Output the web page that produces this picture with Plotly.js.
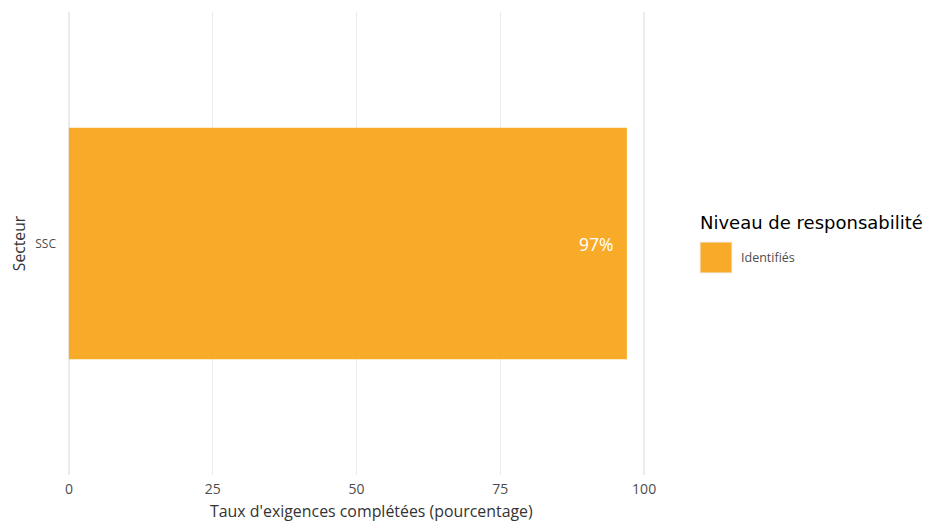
<!DOCTYPE html>
<html>
<head>
<meta charset="utf-8">
<script src="https://cdn.plot.ly/plotly-3.0.1.min.js"></script>
<style>html,body{margin:0;padding:0;background:#fff;}#chart{width:946px;height:525px;}</style>
</head>
<body>
<div id="chart"></div>
<script>
const categories = ["SSC"];
const values = [97];
const labels = ["97%"];
const seriesName = "Identifiés";
const legendTitle = "Niveau de responsabilité";
const xTitle = "Taux d'exigences complétées (pourcentage)";
const yTitle = "Secteur";
const xTicks = [0, 25, 50, 75, 100];
const barColor = "#F8AB28";

const trace = {
  type: "bar",
  orientation: "h",
  x: values,
  y: categories,
  width: 0.6,
  name: seriesName,
  marker: {color: barColor},
  hoverinfo: "x+y",
  showlegend: false
};

const W = 946, H = 525;
const margin = {l: 66, r: 299, t: 12, b: 50};

const layout = {
  width: W, height: H,
  margin: margin,
  paper_bgcolor: "#fff", plot_bgcolor: "#fff",
  showlegend: false,
  xaxis: {
    range: [-0.5, 100.5], tickvals: xTicks, ticktext: xTicks.map(String),
    showgrid: true, gridcolor: "#ebebeb", gridwidth: 1.5, zeroline: false,
    showline: false, ticks: "", ticklabelstandoff: 4,
    tickfont: {family: "Open Sans", size: 14, color: "#4d4d4d"},
    fixedrange: true
  },
  yaxis: {
    range: [-0.6, 0.6], showgrid: false, zeroline: false, ticks: "", ticklabelstandoff: 9,
    tickfont: {family: "Open Sans", size: 12, color: "#4d4d4d"},
    title: {text: yTitle, font: {family: "Open Sans", size: 15.7, color: "#333"}, standoff: 5},
    fixedrange: true
  },
  annotations: [],
  shapes: []
};

function px2paperX(px){ return (px - margin.l) / (W - margin.l - margin.r); }
function px2paperY(py){ return 1 - (py - margin.t) / (H - margin.t - margin.b); }

layout.annotations.push(
  {x: values[0], y: categories[0], xref: "x", yref: "y", text: labels[0], showarrow: false,
   xanchor: "right", xshift: -12, font: {family: "Open Sans", size: 17.5, color: "#fff"}},
  {x: px2paperX(371), y: px2paperY(511), xref: "paper", yref: "paper", xanchor: "center", yanchor: "middle",
   text: xTitle, showarrow: false, font: {family: "Open Sans", size: 15.9, color: "#333"}},
  {x: px2paperX(698), y: px2paperY(222), xref: "paper", yref: "paper", xanchor: "left", yanchor: "middle",
   text: legendTitle, showarrow: false, font: {family: "DejaVu Sans", size: 18, color: "#000"}},
  {x: px2paperX(739), y: px2paperY(257), xref: "paper", yref: "paper", xanchor: "left", yanchor: "middle",
   text: seriesName, showarrow: false, font: {family: "Open Sans", size: 12.5, color: "#4d4d4d"}}
);
layout.shapes.push(
  {type: "rect", xref: "paper", yref: "paper", x0: px2paperX(700), x1: px2paperX(732), y0: px2paperY(273), y1: px2paperY(242),
   fillcolor: barColor, line: {color: "#f2f2f2", width: 1}}
);

Plotly.newPlot("chart", [trace], layout, {displayModeBar: false, staticPlot: true});
</script>
</body>
</html>
